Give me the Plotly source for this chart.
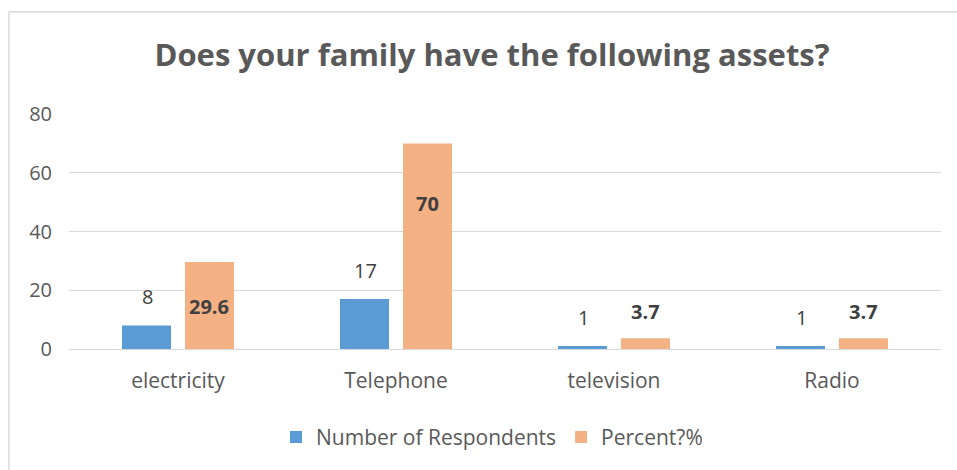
import plotly.graph_objects as go

categories = ["electricity", "Telephone", "television", "Radio"]
respondents = [8, 17, 1, 1]
percent = [29.6, 70, 3.7, 3.7]
series_names = ["Number of Respondents", "Percent?%"]
y_ticks = [0, 20, 40, 60, 80]

BLUE = "#5B9BD5"
ORANGE = "#F4B183"
TEXT = "#595959"
LABEL = "#404040"
GRID = "#D9D9D9"
FONT = "Open Sans"

W, H = 957, 470
ML, MR, MT, MB = 69, 16, 114, 119
PW, PH = W - ML - MR, H - MT - MB

fig = go.Figure()
fig.add_trace(go.Bar(x=categories, y=respondents, name=series_names[0],
                     marker=dict(color=BLUE, line=dict(width=0))))
fig.add_trace(go.Bar(x=categories, y=percent, name=series_names[1],
                     marker=dict(color=ORANGE, line=dict(width=0))))

# value labels placed relative to each bar top
annotations = []
for cat, v in zip(categories, respondents):
    annotations.append(dict(x=cat, y=v, xref="x", yref="y", text=str(v),
                            showarrow=False, xshift=-31, yshift=29,
                            font=dict(family=FONT, size=20, color=LABEL)))
for cat, v in zip(categories, percent):
    if v > 50:
        ys = -60
    elif v > 10:
        ys = -44
    else:
        ys = 27
    annotations.append(dict(x=cat, y=v, xref="x", yref="y", text=f"<b>{v:g}</b>",
                            showarrow=False, xshift=31, yshift=ys,
                            font=dict(family=FONT, size=20, color=LABEL)))

def px_x(p):
    return (p - ML) / PW

def px_y(p):
    return (H - MB - p) / PH

# chart frame (top and left edges; the rest runs off the page)
frame = [
    dict(type="line", xref="paper", yref="paper", x0=px_x(9), x1=px_x(W + 5),
         y0=px_y(11), y1=px_y(11), line=dict(color=GRID, width=1.5)),
    dict(type="line", xref="paper", yref="paper", x0=px_x(9), x1=px_x(9),
         y0=px_y(11), y1=px_y(H + 5), line=dict(color=GRID, width=1.5)),
]

fig.update_layout(
    width=W, height=H,
    margin=dict(l=ML, r=MR, t=MT, b=MB),
    paper_bgcolor="white", plot_bgcolor="white",
    font=dict(family=FONT, color=TEXT),
    title=dict(text="<b>Does your family have the following assets?</b>",
               x=492 / W, xanchor="center", y=1 - 55 / H, yanchor="middle",
               font=dict(family=FONT, size=31, color=TEXT)),
    barmode="group", bargap=0.422, bargroupgap=0.222,
    xaxis=dict(showgrid=False, showline=False, ticks="", zeroline=False,
               ticklabelstandoff=17,
               tickfont=dict(family=FONT, size=21, color=TEXT)),
    yaxis=dict(range=[0, 80], tickvals=y_ticks, showgrid=True, gridcolor=GRID,
               gridwidth=1, zeroline=True, zerolinecolor=GRID, zerolinewidth=1,
               showline=False, ticks="", ticklen=0, ticklabelstandoff=16,
               tickfont=dict(family=FONT, size=20, color=TEXT)),
    legend=dict(orientation="h", x=px_x(492), xanchor="center",
                y=px_y(440), yanchor="middle",
                font=dict(family=FONT, size=21, color=TEXT), itemwidth=30),
    annotations=annotations,
    shapes=frame,
)

fig.write_html("out.html")
